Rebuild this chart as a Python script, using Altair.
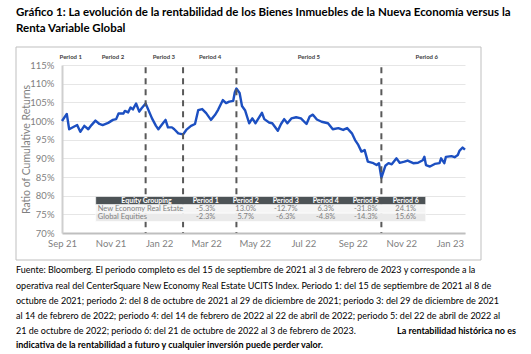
import altair as alt
import pandas as pd

# ---------------- data ----------------
dates = [
    "2021-09-15", "2021-09-21", "2021-09-24", "2021-10-01", "2021-10-04", "2021-10-08",
    "2021-10-13", "2021-10-18", "2021-10-22", "2021-10-27", "2021-11-01", "2021-11-05",
    "2021-11-12", "2021-11-18", "2021-11-22", "2021-11-25", "2021-12-01", "2021-12-03",
    "2021-12-07", "2021-12-10", "2021-12-13", "2021-12-17", "2021-12-21", "2021-12-24",
    "2021-12-29", "2022-01-06", "2022-01-11", "2022-01-14", "2022-01-19", "2022-01-23",
    "2022-01-26", "2022-01-31", "2022-02-03", "2022-02-08", "2022-02-14", "2022-02-18",
    "2022-02-24", "2022-03-01", "2022-03-05", "2022-03-10", "2022-03-15", "2022-03-21",
    "2022-03-26", "2022-03-30", "2022-04-05", "2022-04-09", "2022-04-13", "2022-04-18",
    "2022-04-20", "2022-04-22", "2022-04-26", "2022-04-29", "2022-05-03", "2022-05-08",
    "2022-05-12", "2022-05-16", "2022-05-24", "2022-05-27", "2022-06-02", "2022-06-06",
    "2022-06-13", "2022-06-17", "2022-06-21", "2022-06-25", "2022-06-30", "2022-07-06",
    "2022-07-12", "2022-07-19", "2022-07-23", "2022-07-27", "2022-08-01", "2022-08-07",
    "2022-08-15", "2022-08-21", "2022-08-28", "2022-09-03", "2022-09-08", "2022-09-14",
    "2022-09-18", "2022-09-22", "2022-09-26", "2022-09-30", "2022-10-04", "2022-10-11",
    "2022-10-15", "2022-10-18", "2022-10-21", "2022-10-26", "2022-10-30", "2022-11-03",
    "2022-11-09", "2022-11-13", "2022-11-19", "2022-11-23", "2022-11-30", "2022-12-06",
    "2022-12-12", "2022-12-14", "2022-12-16", "2022-12-21", "2022-12-27", "2023-01-02",
    "2023-01-04", "2023-01-08", "2023-01-10", "2023-01-17", "2023-01-21", "2023-01-25",
    "2023-01-27", "2023-01-31", "2023-02-03",
]
values = [
    100.0, 101.9, 97.8, 98.6, 98.9, 97.1,
    98.7, 97.8, 98.9, 100.1, 99.2, 98.9,
    99.5, 100.3, 100.5, 102.0, 102.0, 102.7,
    102.3, 103.6, 103.1, 104.7, 102.5, 103.4,
    104.7, 100.7, 98.7, 97.8, 99.2, 100.3,
    98.3, 98.3, 97.8, 96.7, 96.4, 97.6,
    98.7, 99.2, 102.9, 103.2, 102.1, 100.3,
    101.6, 103.0, 105.6, 104.8, 105.2, 105.4,
    107.7, 108.7, 107.5, 104.0, 102.8, 99.4,
    100.7, 99.4, 102.2, 100.5, 99.6, 99.4,
    97.4, 99.2, 100.5, 99.4, 100.7, 101.0,
    100.7, 99.2, 101.2, 101.7, 100.4, 99.8,
    99.4, 97.8, 98.1, 97.6, 98.1, 96.7,
    94.9, 93.6, 91.8, 92.2, 89.1, 88.7,
    88.2, 88.7, 84.8, 88.0, 88.7, 88.4,
    90.0, 88.8, 89.1, 89.4, 88.7, 88.8,
    89.5, 90.4, 88.2, 87.8, 88.5, 88.7,
    90.0, 88.7, 90.4, 90.6, 90.3, 90.9,
    92.0, 92.9, 92.3,
]

boundary_dates = ["2021-12-29", "2022-02-14", "2022-04-22", "2022-10-21"]
period_names = ["Period 1", "Period 2", "Period 3", "Period 4", "Period 5", "Period 6"]
period_label_dates = ["2021-09-26", "2021-11-18", "2022-01-21", "2022-03-20", "2022-07-22", "2022-12-17"]

groups = ["New Economy Real Estate", "Global Equities"]
nere_returns = [-5.3, 13.0, -12.7, 6.3, -31.8, 24.1]
global_returns = [-2.3, 5.7, -6.3, -4.8, -14.3, 15.6]

x_tick_dates = ["2021-09-15", "2021-11-15", "2022-01-15", "2022-03-15", "2022-05-15",
                "2022-07-15", "2022-09-15", "2022-11-15", "2023-01-15"]
x_domain = ["2021-09-15", "2023-02-03"]
y_ticks = [70, 75, 80, 85, 90, 95, 100, 105, 110, 115]

title_lines = [
    "Gráfico 1: La evolución de la rentabilidad de los Bienes Inmuebles de la Nueva Economía versus la",
    "Renta Variable Global",
]
footnote_lines = [
    "Fuente: Bloomberg. El periodo completo es del 15 de septiembre de 2021 al 3 de febrero de 2023 y corresponde a la",
    "operativa real del CenterSquare New Economy Real Estate UCITS Index. Periodo 1: del 15 de septiembre de 2021 al 8 de",
    "octubre de 2021; periodo 2: del 8 de octubre de 2021 al 29 de diciembre de 2021; periodo 3: del 29 de diciembre de 2021",
    "al 14 de febrero de 2022; periodo 4: del 14 de febrero de 2022 al 22 de abril de 2022; periodo 5: del 22 de abril de 2022 al",
    "21 de octubre de 2022; periodo 6: del 21 de octubre de 2022 al 3 de febrero de 2023.",
]
footnote_bold_tail = "La rentabilidad histórica no es"
footnote_bold_line = "indicativa de la rentabilidad a futuro y cualquier inversión puede perder valor."

# ---------------- layout / style ----------------
W, H = 403, 168
FONT = "Lato"
GRAY = "#7f7f7f"
BLUE = "#1c4fc1"


def dt(s):
    t = pd.Timestamp(s)
    return alt.DateTime(year=t.year, month=t.month, date=t.day, utc=True)


xscale = alt.Scale(type="utc", domain=[dt(d) for d in x_domain], nice=False)
yscale = alt.Scale(domain=[70, 115], nice=False, zero=False)

xaxis = alt.Axis(values=[dt(d) for d in x_tick_dates], format="%b %y", title=None,
                 grid=False, ticks=False, labelColor=GRAY, labelFont=FONT,
                 labelFontSize=9.5, labelPadding=5, domainColor="#bfbfbf",
                 domainWidth=2, labelFlush=False, labelOverlap=False)
yaxis = alt.Axis(values=y_ticks, labelExpr="datum.value + '%'",
                 title="Ratio of Cumulative Returns", titleColor=GRAY,
                 titleFont=FONT, titleFontSize=10.5, titleFontWeight="normal",
                 titleX=-36, titleY=H / 2, titleAngle=-90, titleAlign="center",
                 titleBaseline="middle",
                 grid=True, gridColor="#e6e6e6", gridWidth=1, ticks=False,
                 labelColor=GRAY, labelFont=FONT, labelFontSize=9.5,
                 labelPadding=8, domainColor="#cfcfcf", domainWidth=2,
                 labelOverlap=False)

line_df = pd.DataFrame({"date": dates, "value": values})

line = alt.Chart(line_df).mark_line(color=BLUE, strokeWidth=2.4, strokeJoin="round").encode(
    x=alt.X("date:T", scale=xscale, axis=xaxis),
    y=alt.Y("value:Q", scale=yscale, axis=yaxis),
)

rules_df = pd.DataFrame({"date": boundary_dates})
rules = alt.Chart(rules_df).mark_rule(color="#595959", strokeWidth=2, strokeDash=[6, 5]).encode(
    x=alt.X("date:T", scale=xscale, axis=xaxis),
    y=alt.YDatum(114.4, scale=yscale, axis=yaxis),
    y2=alt.datum(70),
)

plabels_df = pd.DataFrame({"date": period_label_dates, "name": period_names})
plabels = alt.Chart(plabels_df).mark_text(font=FONT, fontSize=6, fontWeight="bold",
                                          color="#404040", baseline="middle").encode(
    x=alt.X("date:T", scale=xscale, axis=xaxis),
    y=alt.value(-8),
    text="name:N",
)

main = alt.layer(line, rules, plabels)

# ---------------- summary table ----------------
GROUP_COL = 2.25
NCOL = GROUP_COL + len(period_names)
tx = alt.Scale(domain=[0, NCOL], range=[33.7, 363.7], nice=False, zero=False)
ty = alt.Scale(domain=[0, 3], range=[131.5, 156.5], nice=False, zero=False)

bg_df = pd.DataFrame({
    "x0": [0, 0, 0], "x1": [NCOL] * 3,
    "y0": [0, 1, 2], "y1": [1, 2, 3],
    "fill": ["#4d5356", "#f5f5f5", "#eaeaea"],
})
bg = alt.Chart(bg_df).mark_rect(stroke="white", strokeWidth=0.6).encode(
    x=alt.X("x0:Q", scale=tx, axis=None), x2="x1:Q",
    y=alt.Y("y0:Q", scale=ty, axis=None), y2="y1:Q",
    fill=alt.Fill("fill:N", scale=None),
)

head_df = pd.DataFrame({
    "x": [1.27] + [GROUP_COL + 0.5 + i for i in range(len(period_names))],
    "y": [0.5] * (len(period_names) + 1),
    "text": ["Equity Grouping"] + period_names,
})
head = alt.Chart(head_df).mark_text(font=FONT, fontSize=7, fontWeight="bold", color="white",
                                    baseline="middle").encode(
    x=alt.X("x:Q", scale=tx, axis=None), y=alt.Y("y:Q", scale=ty, axis=None), text="text:N")

grp_df = pd.DataFrame({"x": [0.05, 0.05], "y": [1.5, 2.5], "text": groups})
grp = alt.Chart(grp_df).mark_text(font=FONT, fontSize=7.5, color=GRAY, align="left",
                                  baseline="middle").encode(
    x=alt.X("x:Q", scale=tx, axis=None), y=alt.Y("y:Q", scale=ty, axis=None), text="text:N")

vals = []
for row, series in ((1.5, nere_returns), (2.5, global_returns)):
    for i, v in enumerate(series):
        vals.append({"x": GROUP_COL + 0.5 + i, "y": row, "text": f"{v:.1f}%"})
val_df = pd.DataFrame(vals)
valt = alt.Chart(val_df).mark_text(font=FONT, fontSize=7.5, color=GRAY,
                                   baseline="middle").encode(
    x=alt.X("x:Q", scale=tx, axis=None), y=alt.Y("y:Q", scale=ty, axis=None), text="text:N")

table = alt.layer(bg, head, grp, valt)

# ---------------- frame, title, footnote ----------------
box = alt.Chart(pd.DataFrame({"a": [0]})).mark_rect(fill=None, stroke="#bfbfbf", strokeWidth=1).encode(
    x=alt.value(-46), x2=alt.value(419), y=alt.value(-18), y2=alt.value(195))

title_df = pd.DataFrame({"text": title_lines, "y": [-52.5, -36]})
title = alt.Chart(title_df).mark_text(font=FONT, fontSize=11.5, fontWeight="bold", color="black",
                                      align="left", baseline="middle").encode(
    x=alt.value(-46), y=alt.Y("y:Q", scale=None), text="text:N")

foot_df = pd.DataFrame({"text": footnote_lines, "y": [205, 220.5, 235.5, 250.5, 265.5]})
foot = alt.Chart(foot_df).mark_text(font=FONT, fontSize=9, color="black", align="left",
                                    baseline="middle").encode(
    x=alt.value(-46), y=alt.Y("y:Q", scale=None), text="text:N")

foot_b_df = pd.DataFrame({"text": [footnote_bold_tail, footnote_bold_line],
                          "y": [265.5, 279.5], "x": [454, -46]})
foot_b1 = alt.Chart(foot_b_df.iloc[[0]]).mark_text(font=FONT, fontSize=9, fontWeight="bold",
                                                   color="black", align="right",
                                                   baseline="middle").encode(
    x=alt.X("x:Q", scale=None), y=alt.Y("y:Q", scale=None), text="text:N")
foot_b2 = alt.Chart(foot_b_df.iloc[[1]]).mark_text(font=FONT, fontSize=9, fontWeight="bold",
                                                   color="black", align="left",
                                                   baseline="middle").encode(
    x=alt.X("x:Q", scale=None), y=alt.Y("y:Q", scale=None), text="text:N")

deco = alt.layer(box, title, foot, foot_b1, foot_b2)

chart = alt.layer(main, table, deco).resolve_scale(
    x="independent", y="independent"
).properties(
    width=W, height=H,
    autosize=alt.AutoSizeParams(type="none"),
    padding={"left": 62, "top": 65, "right": 66, "bottom": 121},
    background="white",
).configure_view(stroke=None)

chart.save("out.html", embed_options={"renderer": "svg", "actions": False})
